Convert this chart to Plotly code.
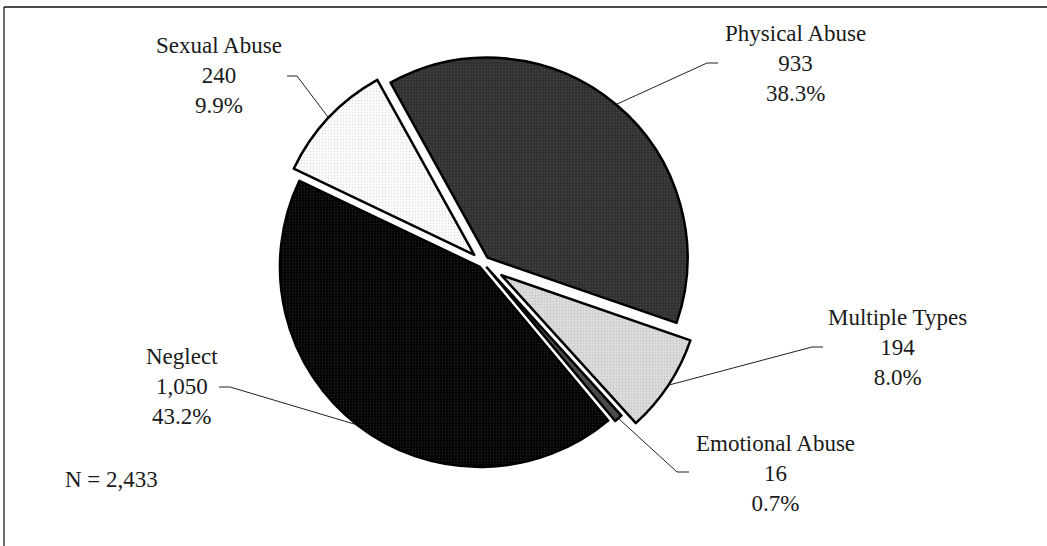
import math
import plotly.graph_objects as go

# ---- data ----
categories = ["Physical Abuse", "Multiple Types", "Emotional Abuse", "Neglect", "Sexual Abuse"]
counts = [933, 194, 16, 1050, 240]
total = sum(counts)
total_label = f"N = {total:,}"

# ---- layout / styling ----
W, H = 1047, 546
CX, CY, R = 483, 263, 200          # pie centre and radius in pixels
ROTATION = -29
pulls = [0.035, 0.11, 0.03, 0.025, 0.06]
fill_bg = ["#2e2e2e", "#dedede", "#4a4a4a", "#000000", "#ffffff"]
fill_fg = ["#5a5a5a", "#b0b0b0", "#4a4a4a", "#3a3a3a", "#c8c8c8"]
shapes_pat = [".", ".", "", ".", "."]
FONT = dict(family="Liberation Serif, Times New Roman, serif", size=23, color="#1a1a1a")

# label placement: label centre (x, y of middle line), elbow point, stub end x
label_pos = {
    "Physical Abuse": dict(lx=795, ly=63, ex=707, ey=63, sx=718),
    "Multiple Types": dict(lx=897, ly=347, ex=812, ey=347, sx=823),
    "Emotional Abuse": dict(lx=775, ly=473, ex=677, ey=472, sx=689),
    "Neglect": dict(lx=182, ly=386, ex=230, ey=387, sx=219),
    "Sexual Abuse": dict(lx=219, ly=76, ex=297, ey=76, sx=287),
}


def px(x):
    return x / W


def py(y):
    return 1 - y / H


maxpull = max(pulls)
half = R * (1 + maxpull)

fig = go.Figure(
    go.Pie(
        labels=categories,
        values=counts,
        sort=False,
        direction="clockwise",
        rotation=ROTATION,
        pull=pulls,
        textinfo="none",
        hoverinfo="label+value+percent",
        showlegend=False,
        marker=dict(
            colors=fill_bg,
            line=dict(color="#000000", width=2.5),
            pattern=dict(
                shape=shapes_pat,
                fgcolor=fill_fg,
                bgcolor=fill_bg,
                size=3,
                solidity=0.35,
                fillmode="overlay",
            ),
        ),
        domain=dict(
            x=[px(CX - half), px(CX + half)],
            y=[py(CY + half), py(CY - half)],
        ),
    )
)

shapes = []
annotations = []
cum = 0
for cat, v, p in zip(categories, counts, pulls):
    mid = math.radians(ROTATION + 360 * (cum + v / 2) / total)
    cum += v
    dx, dy = math.sin(mid), -math.cos(mid)
    tx = CX + p * R * dx + R * dx
    ty = CY + p * R * dy + R * dy
    lp = label_pos[cat]
    shapes.append(dict(type="line", xref="paper", yref="paper",
                       x0=px(tx), y0=py(ty), x1=px(lp["ex"]), y1=py(lp["ey"]),
                       line=dict(color="#222222", width=1)))
    shapes.append(dict(type="line", xref="paper", yref="paper",
                       x0=px(lp["ex"]), y0=py(lp["ey"]), x1=px(lp["sx"]), y1=py(lp["ey"]),
                       line=dict(color="#222222", width=1)))
    annotations.append(dict(
        xref="paper", yref="paper", x=px(lp["lx"]), y=py(lp["ly"]),
        xanchor="center", yanchor="middle", showarrow=False, align="center",
        text=f"{cat}<br>{v:,}<br>{v / total * 100:.1f}%", font=FONT,
    ))

annotations.append(dict(xref="paper", yref="paper", x=px(111), y=py(479),
                        xanchor="center", yanchor="middle", showarrow=False,
                        text=total_label, font=FONT))

# frame (top and left edges)
shapes.append(dict(type="line", xref="paper", yref="paper", x0=px(4), y0=py(7), x1=1.0, y1=py(7),
                   line=dict(color="#111111", width=1.6)))
shapes.append(dict(type="line", xref="paper", yref="paper", x0=px(4), y0=py(7), x1=px(4), y1=0,
                   line=dict(color="#111111", width=1.2)))

fig.update_layout(
    width=W, height=H, autosize=False,
    margin=dict(l=0, r=0, t=0, b=0),
    paper_bgcolor="white", plot_bgcolor="white",
    shapes=shapes, annotations=annotations,
)

fig.write_html("out.html", config={"displayModeBar": False},
               post_script="document.body.style.margin='0px';")
